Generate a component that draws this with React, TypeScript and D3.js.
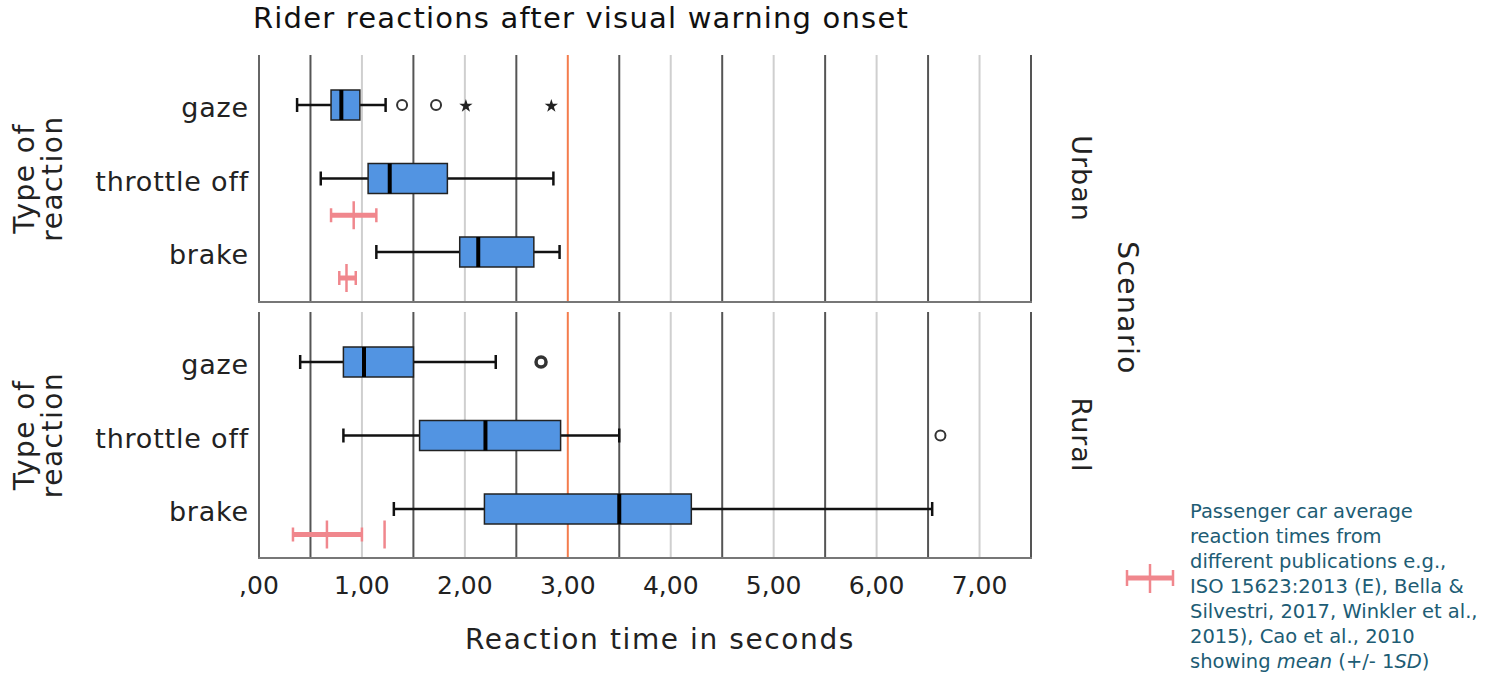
import React from "react";
import * as d3 from "d3";

const categories = ["gaze", "throttle off", "brake"];
const scenarios = ["Urban", "Rural"];
// [min whisker, Q1, median, Q3, max whisker]
const urbanBoxes = [
  [0.37, 0.7, 0.8, 0.98, 1.23],
  [0.6, 1.06, 1.27, 1.83, 2.86],
  [1.14, 1.95, 2.13, 2.67, 2.92],
];
const ruralBoxes = [
  [0.4, 0.82, 1.02, 1.5, 2.3],
  [0.82, 1.56, 2.2, 2.93, 3.5],
  [1.31, 2.19, 3.5, 4.2, 6.54],
];
// outliers: [category, value, type]
const urbanOutliers: [string, number, string][] = [
  ["gaze", 1.39, "circle"],
  ["gaze", 1.72, "circle"],
  ["gaze", 2.01, "star"],
  ["gaze", 2.84, "star"],
];
const ruralOutliers: [string, number, string][] = [
  ["gaze", 2.74, "double"],
  ["throttle off", 6.62, "circle"],
];
// passenger car reference: [category, mean - SD, mean, mean + SD]
const urbanCar: [string, number, number, number][] = [
  ["throttle off", 0.7, 0.92, 1.14],
  ["brake", 0.78, 0.85, 0.94],
];
const ruralCar: [string, number, number, number][] = [["brake", 0.33, 0.66, 1.0]];
const ruralCarMeanOnly: [string, number][] = [["brake", 1.22]];
const tickValues = [0, 1, 2, 3, 4, 5, 6, 7];
const darkGrid = [0.5, 1.5, 2.5, 3.5, 4.5, 5.5, 6.5, 7.5];
const lightGrid = [1, 2, 4, 5, 6, 7];
const threshold = 3;

const FONT = "'DejaVu Sans', sans-serif";
const BOX_FILL = "#5294e2";
const RED = "#f0878d";
const ORANGE = "#f47c4c";
const TEAL = "#205c74";

export default function App() {
  const x = d3.scaleLinear().domain([0, 7.5]).range([259, 1031]);
  const panels = [
    { name: scenarios[0], top: 55, bottom: 302, boxes: urbanBoxes, outliers: urbanOutliers, car: urbanCar, carMean: [] as [string, number][] },
    { name: scenarios[1], top: 312, bottom: 558, boxes: ruralBoxes, outliers: ruralOutliers, car: ruralCar, carMean: ruralCarMeanOnly },
  ];
  const fmt = (v: number) => (v === 0 ? ",00" : d3.format(".2f")(v).replace(".", ","));
  const boxH = 30;
  const star = d3.symbol().type(d3.symbolStar).size(55)();

  return (
    <div style={{ position: "absolute", left: 0, top: 0 }}>
      <svg width={1497} height={676} style={{ display: "block", background: "#fff" }}>
        <text x={581} y={28} textAnchor="middle" fontFamily={FONT} fontSize={29} letterSpacing={1.2} fill="#111">
          Rider reactions after visual warning onset
        </text>
        {panels.map((p) => {
          const y = d3.scalePoint<string>().domain(categories).range([p.top + 50, p.top + 197]);
          const midY = (c: string) => {
            const i = categories.indexOf(c);
            const yc = y(c)!;
            return i < categories.length - 1 ? (yc + y(categories[i + 1])!) / 2 : (yc + p.bottom) / 2 + 1;
          };
          const midPanel = (p.top + p.bottom) / 2;
          return (
            <g key={p.name}>
              {lightGrid.map((v) => (
                <line key={"l" + v} x1={x(v)} x2={x(v)} y1={p.top} y2={p.bottom} stroke="#cfcfcf" strokeWidth={2} />
              ))}
              {darkGrid.map((v) => (
                <line key={"d" + v} x1={x(v)} x2={x(v)} y1={p.top} y2={p.bottom} stroke="#555" strokeWidth={2} />
              ))}
              <line x1={x(threshold)} x2={x(threshold)} y1={p.top} y2={p.bottom} stroke={ORANGE} strokeWidth={2} />
              <line x1={x(0)} x2={x(0)} y1={p.top} y2={p.bottom} stroke="#666" strokeWidth={2} />
              <line x1={x(0) - 1} x2={x(7.5) + 1} y1={p.bottom} y2={p.bottom} stroke="#777" strokeWidth={2} />
              {categories.map((c) => (
                <text key={c} x={249} y={y(c)! + 12} textAnchor="end" fontFamily={FONT} fontSize={27} letterSpacing={0.8} fill="#222">
                  {c}
                </text>
              ))}
              <text transform={`translate(34,${midPanel}) rotate(-90)`} textAnchor="middle" fontFamily={FONT} fontSize={28} letterSpacing={1.5} fill="#222">
                Type of
              </text>
              <text transform={`translate(62,${midPanel}) rotate(-90)`} textAnchor="middle" fontFamily={FONT} fontSize={28} letterSpacing={1.5} fill="#222">
                reaction
              </text>
              <text transform={`translate(1072,${midPanel}) rotate(90)`} textAnchor="middle" fontFamily={FONT} fontSize={27} letterSpacing={1} fill="#222">
                {p.name}
              </text>
              {p.boxes.map((b, i) => {
                const cy = y(categories[i])!;
                return (
                  <g key={i}>
                    <line x1={x(b[0])} x2={x(b[1])} y1={cy} y2={cy} stroke="#111" strokeWidth={2.5} />
                    <line x1={x(b[3])} x2={x(b[4])} y1={cy} y2={cy} stroke="#111" strokeWidth={2.5} />
                    <line x1={x(b[0])} x2={x(b[0])} y1={cy - 7} y2={cy + 7} stroke="#111" strokeWidth={2.5} />
                    <line x1={x(b[4])} x2={x(b[4])} y1={cy - 7} y2={cy + 7} stroke="#111" strokeWidth={2.5} />
                    <rect x={x(b[1])} y={cy - boxH / 2} width={x(b[3]) - x(b[1])} height={boxH} fill={BOX_FILL} stroke="#222" strokeWidth={1.5} />
                    <line x1={x(b[2])} x2={x(b[2])} y1={cy - boxH / 2} y2={cy + boxH / 2} stroke="#000" strokeWidth={4} />
                  </g>
                );
              })}
              {p.outliers.map(([c, v, t], i) =>
                t === "star" ? (
                  <path key={i} d={star!} transform={`translate(${x(v)},${y(c)! + 1})`} fill="#222" />
                ) : (
                  <circle key={i} cx={x(v)} cy={y(c)!} r={5} fill="none" stroke="#333" strokeWidth={t === "double" ? 3.5 : 2} />
                )
              )}
              {p.car.map(([c, lo, m, hi], i) => {
                const cy = midY(c);
                return (
                  <g key={i}>
                    <line x1={x(lo)} x2={x(hi)} y1={cy} y2={cy} stroke={RED} strokeWidth={5} />
                    <line x1={x(lo)} x2={x(lo)} y1={cy - 7} y2={cy + 7} stroke={RED} strokeWidth={2.5} />
                    <line x1={x(hi)} x2={x(hi)} y1={cy - 7} y2={cy + 7} stroke={RED} strokeWidth={2.5} />
                    <line x1={x(m)} x2={x(m)} y1={cy - 14} y2={cy + 14} stroke={RED} strokeWidth={2.5} />
                  </g>
                );
              })}
              {p.carMean.map(([c, m], i) => {
                const cy = midY(c);
                return <line key={"m" + i} x1={x(m)} x2={x(m)} y1={cy - 14} y2={cy + 14} stroke={RED} strokeWidth={2.5} />;
              })}
            </g>
          );
        })}
        <text transform={`translate(1118,308) rotate(90)`} textAnchor="middle" fontFamily={FONT} fontSize={28} letterSpacing={1.5} fill="#222">
          Scenario
        </text>
        {tickValues.map((v) => (
          <text key={v} x={x(v)} y={594} textAnchor="middle" fontFamily={FONT} fontSize={25} fill="#222">
            {fmt(v)}
          </text>
        ))}
        <text x={660} y={649} textAnchor="middle" fontFamily={FONT} fontSize={28} letterSpacing={1.6} fill="#222">
          Reaction time in seconds
        </text>
        <g>
          <line x1={1127} x2={1173} y1={578} y2={578} stroke={RED} strokeWidth={5} />
          <line x1={1127} x2={1127} y1={570} y2={586} stroke={RED} strokeWidth={2.5} />
          <line x1={1173} x2={1173} y1={570} y2={586} stroke={RED} strokeWidth={2.5} />
          <line x1={1150} x2={1150} y1={564} y2={593} stroke={RED} strokeWidth={2.5} />
          <text fontFamily={FONT} fontSize={19.5} fill={TEAL}>
            <tspan x={1190} y={518}>Passenger car average</tspan>
            <tspan x={1190} y={543}>reaction times from</tspan>
            <tspan x={1190} y={568}>different publications e.g.,</tspan>
            <tspan x={1190} y={593}>ISO 15623:2013 (E),  Bella &amp;</tspan>
            <tspan x={1190} y={618}>Silvestri, 2017, Winkler et al.,</tspan>
            <tspan x={1190} y={643}>2015), Cao et al., 2010</tspan>
            <tspan x={1190} y={668}>showing <tspan fontStyle="italic">mean</tspan> (+/- 1<tspan fontStyle="italic">SD</tspan>)</tspan>
          </text>
        </g>
      </svg>
    </div>
  );
}
